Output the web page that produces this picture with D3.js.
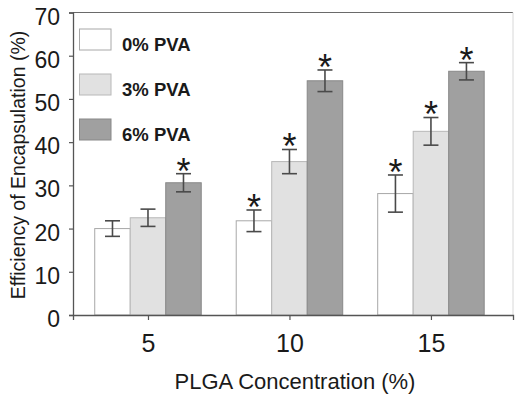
<!DOCTYPE html>
<html><head><meta charset="utf-8">
<script src="https://cdn.jsdelivr.net/npm/d3@7"></script>
<style>body{margin:0;background:#fff;} svg{display:block;font-family:"Liberation Sans",Arial,sans-serif;}</style>
</head><body>
<svg id="c" width="517" height="399"></svg>
<script>
const categories = ["5", "10", "15"];
const categoryValues = [5, 10, 15];
const seriesNames = ["0% PVA", "3% PVA", "6% PVA"];
const values0 = [20.0, 21.8, 28.1];
const values3 = [22.5, 35.5, 42.5];
const values6 = [30.6, 54.2, 56.4];
const errors0 = [1.8, 2.5, 4.3];
const errors3 = [2.0, 2.8, 3.2];
const errors6 = [2.1, 2.5, 2.0];
const stars0 = [false, true, true];
const stars3 = [false, true, true];
const stars6 = [true, true, true];
const yTicks = [0, 10, 20, 30, 40, 50, 60, 70];
const fills = ["#ffffff", "#e1e1e1", "#a0a0a0"];
const strokes = ["#a8a8a8", "#b8b8b8", "#888888"];

const series = [
  {name: seriesNames[0], values: values0, errors: errors0, stars: stars0},
  {name: seriesNames[1], values: values3, errors: errors3, stars: stars3},
  {name: seriesNames[2], values: values6, errors: errors6, stars: stars6}
];

const L = 73, R = 513, T = 12.5, B = 315;
const svg = d3.select("#c");
const x = d3.scaleLinear().domain([2.35, 17.9]).range([L, R]);
const y = d3.scaleLinear().domain([0, 70]).range([B, T]);
const bw = 35.5;

svg.append("line").attr("x1", L).attr("x2", R).attr("y1", T).attr("y2", T)
  .attr("stroke", "#6a6a6a").attr("stroke-width", 1.2);
svg.append("line").attr("x1", R).attr("x2", R).attr("y1", T).attr("y2", B)
  .attr("stroke", "#d8d8d8").attr("stroke-width", 1);

series.forEach((s, si) => {
  const g = svg.append("g");
  categoryValues.forEach((cv, i) => {
    const cx = x(cv) + (si - 1) * bw;
    g.append("rect").attr("x", cx - bw / 2).attr("y", y(s.values[i]))
      .attr("width", bw).attr("height", y(0) - y(s.values[i]))
      .attr("fill", fills[si]).attr("stroke", strokes[si]).attr("stroke-width", 1);
  });
});

series.forEach((s, si) => {
  categoryValues.forEach((cv, i) => {
    const cx = x(cv) + (si - 1) * bw;
    const hi = y(s.values[i] + s.errors[i]);
    const lo = y(s.values[i] - s.errors[i]);
    const g = svg.append("g").attr("stroke", "#4a4a4a").attr("stroke-width", 1.6);
    g.append("line").attr("x1", cx).attr("x2", cx).attr("y1", hi).attr("y2", lo);
    g.append("line").attr("x1", cx - 7.5).attr("x2", cx + 7.5).attr("y1", hi).attr("y2", hi);
    g.append("line").attr("x1", cx - 7.5).attr("x2", cx + 7.5).attr("y1", lo).attr("y2", lo);
    if (s.stars[i]) {
      const fs = 36;
      svg.append("text").attr("x", cx).attr("y", hi - 11 + 0.58 * fs)
        .attr("text-anchor", "middle").attr("font-size", fs).attr("fill", "#1a1a1a")
        .text("*");
    }
  });
});

const yAxis = d3.axisLeft(y).tickValues(yTicks).tickSize(4).tickPadding(9).tickFormat(d3.format("d"));
const gy = svg.append("g").attr("transform", `translate(${L},0)`).call(yAxis);
gy.select(".domain").attr("stroke", "#555").attr("stroke-width", 1.3);
gy.selectAll(".tick line").attr("stroke", "#555").attr("stroke-width", 1.2);
gy.selectAll(".tick text").attr("font-size", 23).attr("fill", "#1a1a1a")
  .attr("font-family", "Liberation Sans, Arial, sans-serif").attr("dy", "0.5em");

const xAxis = d3.axisBottom(x).tickValues(categoryValues).tickSize(5).tickPadding(14)
  .tickFormat((d, i) => categories[i]);
const gx = svg.append("g").attr("transform", `translate(0,${B})`).call(xAxis);
gx.select(".domain").attr("stroke", "#555").attr("stroke-width", 1.3);
gx.selectAll(".tick line").attr("stroke", "#555").attr("stroke-width", 1.2);
gx.selectAll(".tick text").attr("font-size", 25).attr("fill", "#1a1a1a")
  .attr("font-family", "Liberation Sans, Arial, sans-serif");

svg.append("text").attr("x", 295).attr("y", 389).attr("text-anchor", "middle")
  .attr("font-size", 22).attr("fill", "#1a1a1a").text("PLGA Concentration (%)");
svg.append("text").attr("transform", "translate(24.5,165) rotate(-90)").attr("text-anchor", "middle")
  .attr("font-size", 19.5).attr("fill", "#1a1a1a").text("Efficiency of Encapsulation (%)");

const lg = svg.append("g");
series.forEach((s, si) => {
  const top = 29 + si * 45;
  lg.append("rect").attr("x", 79.5).attr("y", top).attr("width", 31.5).attr("height", 21)
    .attr("fill", fills[si]).attr("stroke", strokes[si]).attr("stroke-width", 1);
  lg.append("text").attr("x", 122).attr("y", top + 21.5).attr("font-size", 18.5)
    .attr("font-weight", "bold").attr("fill", "#1a1a1a").text(s.name);
});
</script>
</body></html>
